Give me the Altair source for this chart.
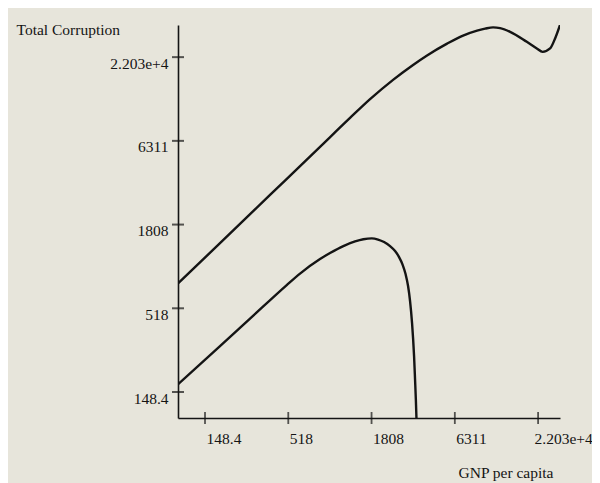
import altair as alt
import pandas as pd

# Tick values (e^5, e^6.25, e^7.5, e^8.75, e^10)
tick_values = [148.41, 518.01, 1808.04, 6310.69, 22026.47]

# Upper curve
upper_x = [99, 185.9, 393.9, 834.4, 1309, 1768, 2497, 3372, 4160, 5617, 7143, 8814,
           9938, 11207, 12449, 14467, 18588, 21601, 23566, 26374, 28429, 30600]
upper_y = [751.7, 1369.8, 2812.9, 5775, 8889, 11769, 15698, 19605, 22592, 26945, 30410,
           32769, 33709, 34369, 33962, 32138, 27676, 25081, 23841, 25081, 29118, 35590]

# Lower curve
lower_x = [99, 185.9, 291.7, 506.1, 617.9, 834.4, 969.6, 1183.9, 1411.3, 1598.7, 1813.5,
           1993.4, 2181.4, 2387, 2573.2, 2732.4, 2880, 3012.6, 3128, 3223, 3321,
           3422.5, 3474.6, 3516.6, 3554]
lower_y = [166.5, 294.5, 443.9, 733, 870.2, 1080.4, 1181.7, 1311.9, 1405, 1452, 1471.6,
           1445.4, 1392.6, 1311.9, 1217.5, 1113.2, 995.3, 863.8, 722.1, 577.3, 415.7,
           254, 177.5, 131.7, 95]

x_domain = [98.95, 30600]
y_domain = [100.7, 35590]

FONT = "Liberation Serif"
INK = "#141414"
FS = 15.5

lines_df = pd.DataFrame(
    {"x": upper_x + lower_x,
     "y": upper_y + lower_y,
     "series": ["upper"] * len(upper_x) + ["lower"] * len(lower_x)}
)
xt_df = pd.DataFrame({"x": tick_values, "y": [y_domain[0]] * len(tick_values)})
yt_df = pd.DataFrame({"x": [x_domain[0]] * len(tick_values), "y": tick_values})

xscale = alt.Scale(type="log", domain=x_domain, nice=False, zero=False)
yscale = alt.Scale(type="log", domain=y_domain, nice=False, zero=False)

x_axis = alt.Axis(
    values=tick_values, format=".4~g", ticks=False, tickSize=0, grid=False,
    domainColor=INK, domainWidth=1.6,
    labelAlign="left", labelBaseline="top", labelPadding=13,
    labelOffset=alt.ExprRef(expr="datum.value > 20000 ? -4 : 1"),
    labelFlush=False, labelOverlap=False, labelBound=False,
    labelFont=FONT, labelFontSize=FS, labelColor=INK,
    title="GNP per capita", titleFont=FONT, titleFontSize=FS,
    titleFontWeight="normal", titleColor=INK, titleAlign="left",
    titleAnchor="start", titleBaseline="alphabetic", titleX=280, titleY=59,
)
y_axis = alt.Axis(
    values=tick_values, format=".4~g", ticks=False, tickSize=0, grid=False,
    domainColor=INK, domainWidth=1.6,
    labelAlign="right", labelBaseline="middle", labelPadding=10, labelOffset=6,
    labelFlush=False, labelOverlap=False, labelBound=False,
    labelFont=FONT, labelFontSize=FS, labelColor=INK,
    title="Total Corruption", titleFont=FONT, titleFontSize=FS,
    titleFontWeight="normal", titleColor=INK, titleAngle=0, titleAlign="left",
    titleBaseline="alphabetic", titleX=-162, titleY=9,
)

enc_x = alt.X("x:Q", scale=xscale, axis=x_axis)
enc_y = alt.Y("y:Q", scale=yscale, axis=y_axis)

lines = alt.Chart(lines_df).mark_line(
    color=INK, strokeWidth=2.4, interpolate="monotone", clip=True
).encode(x=enc_x, y=enc_y, detail="series:N")

xticks = alt.Chart(xt_df).mark_tick(
    orient="vertical", color=INK, size=12, thickness=1.8
).encode(x=enc_x, y=enc_y)

yticks = alt.Chart(yt_df).mark_tick(
    orient="horizontal", color=INK, size=12, thickness=2
).encode(x=enc_x, y=enc_y)

chart = alt.layer(lines, xticks, yticks).properties(
    width=382, height=393,
    autosize=alt.AutoSizeParams(type="none"),
    padding={"left": 170, "top": 17, "right": 32, "bottom": 65},
    background="#e7e5db",
).configure_view(stroke=None)

chart.save("out.html", embed_options={"renderer": "svg", "actions": False})
